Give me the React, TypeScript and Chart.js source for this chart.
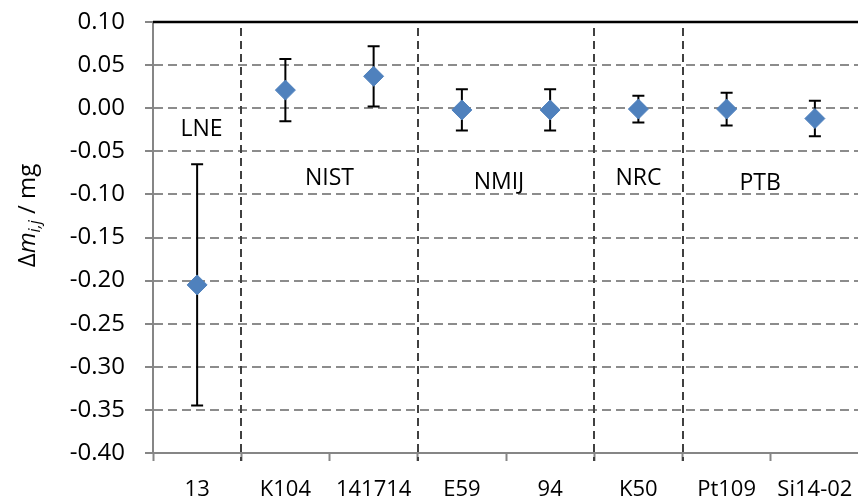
import React, { useEffect, useRef } from 'react';
import { Chart, registerables } from 'chart.js';

Chart.register(...registerables);

// ---- data ----
const categories = ['13', 'K104', '141714', 'E59', '94', 'K50', 'Pt109', 'Si14-02'];
const values = [-0.205, 0.021, 0.037, -0.002, -0.002, -0.001, -0.001, -0.012];
const uncertainties = [0.14, 0.036, 0.035, 0.024, 0.024, 0.0155, 0.019, 0.0205];
const yMin = -0.4;
const yMax = 0.1;
const yStep = 0.05;

// groups (labs) and the category indices after which a separator is drawn
const groupNames = ['LNE', 'NIST', 'NMIJ', 'NRC', 'PTB'];
const separatorsAfter = [0, 2, 4, 5];

// annotation anchors for group names (category index, value)
const groupLabelCat = [0.05, 1.5, 3.42, 5.0, 6.38];
const groupLabelVal = [-0.025, -0.081, -0.086, -0.081, -0.087];

const FONT = "'Open Sans', sans-serif";

export default function App() {
  const ref = useRef<HTMLCanvasElement>(null);

  useEffect(() => {
    const canvas = ref.current;
    if (!canvas) return;

    const near = (a: number, b: number) => Math.abs(a - b) < 1e-6;

    const plugin = {
      id: 'custom',
      beforeDatasetsDraw(chart: any) {
        const { ctx, chartArea } = chart;
        const x = chart.scales.x;
        const y = chart.scales.y;
        ctx.save();
        // top border
        ctx.strokeStyle = '#000';
        ctx.lineWidth = 2.5;
        ctx.beginPath();
        ctx.moveTo(chartArea.left, chartArea.top);
        ctx.lineTo(chartArea.right, chartArea.top);
        ctx.stroke();
        // group separators
        ctx.strokeStyle = '#404040';
        ctx.lineWidth = 2;
        ctx.setLineDash([8, 5]);
        for (const i of separatorsAfter) {
          const px = Math.round((x.getPixelForValue(i) + x.getPixelForValue(i + 1)) / 2);
          ctx.beginPath();
          ctx.moveTo(px, chartArea.top + 6);
          ctx.lineTo(px, chartArea.bottom + 8);
          ctx.stroke();
        }
        ctx.setLineDash([]);
        // error bars
        ctx.strokeStyle = '#000';
        ctx.lineWidth = 2;
        values.forEach((v, i) => {
          const px = x.getPixelForValue(i);
          const t = y.getPixelForValue(v + uncertainties[i]);
          const b = y.getPixelForValue(v - uncertainties[i]);
          ctx.beginPath();
          ctx.moveTo(px, t);
          ctx.lineTo(px, b);
          ctx.moveTo(px - 6, t);
          ctx.lineTo(px + 6, t);
          ctx.moveTo(px - 6, b);
          ctx.lineTo(px + 6, b);
          ctx.stroke();
        });
        ctx.restore();
      },
      afterDraw(chart: any) {
        const { ctx } = chart;
        const x = chart.scales.x;
        const y = chart.scales.y;
        ctx.save();
        // group labels
        ctx.fillStyle = '#000';
        ctx.font = `23px ${FONT}`;
        ctx.textAlign = 'center';
        ctx.textBaseline = 'middle';
        groupNames.forEach((n, i) => {
          const c0 = Math.floor(groupLabelCat[i]);
          const f = groupLabelCat[i] - c0;
          const p0 = x.getPixelForValue(c0);
          const p1 = x.getPixelForValue(c0 + 1);
          const px = p0 + (p1 - p0) * f;
          ctx.fillText(n, px, y.getPixelForValue(groupLabelVal[i]));
        });
        // y-axis title: Δm_{i,j} / mg
        const parts = [
          { t: 'Δ', font: `24px ${FONT}`, dy: 0 },
          { t: 'm', font: `italic 24px ${FONT}`, dy: 0 },
          { t: 'i,j', font: `italic 16px ${FONT}`, dy: 5 },
          { t: ' / mg', font: `24px ${FONT}`, dy: 0 },
        ];
        let total = 0;
        const widths = parts.map((p) => {
          ctx.font = p.font;
          const w = ctx.measureText(p.t).width;
          total += w;
          return w;
        });
        const midY = (chart.chartArea.top + chart.chartArea.bottom) / 2 - 22;
        ctx.translate(35, midY);
        ctx.rotate(-Math.PI / 2);
        ctx.textAlign = 'left';
        ctx.textBaseline = 'alphabetic';
        let cx = -total / 2;
        parts.forEach((p, i) => {
          ctx.font = p.font;
          ctx.fillText(p.t, cx, p.dy);
          cx += widths[i];
        });
        ctx.restore();
      },
    };

    const chart = new Chart(canvas, {
      type: 'line',
      data: {
        labels: categories,
        datasets: [
          {
            data: values,
            showLine: false,
            pointStyle: 'rectRot',
            pointRadius: 10,
            pointHoverRadius: 10,
            pointBackgroundColor: '#4F81BD',
            pointBorderColor: '#4F81BD',
            pointBorderWidth: 1,
          },
        ],
      },
      options: {
        responsive: false,
        animation: false,
        devicePixelRatio: 1,
        layout: { padding: { top: 22, right: 5, left: 0, bottom: 0 } },
        plugins: { legend: { display: false }, tooltip: { enabled: false } },
        scales: {
          x: {
            type: 'category',
            offset: true,
            afterFit: (s: any) => {
              s.height = 48;
              s.paddingLeft = 0;
              s.paddingRight = 0;
            },
            grid: {
              offset: true,
              drawOnChartArea: false,
              drawTicks: true,
              tickLength: 8,
              tickColor: '#868686',
              tickWidth: 2,
            },
            border: { display: true, color: '#868686', width: 2 },
            ticks: {
              autoSkip: false,
              maxRotation: 0,
              minRotation: 0,
              padding: 16,
              color: '#000',
              font: { family: FONT, size: 22 },
            },
          },
          y: {
            min: yMin,
            max: yMax,
            afterFit: (s: any) => {
              s.width = 153;
              s.paddingTop = 0;
              s.paddingBottom = 0;
            },
            grid: {
              color: (c: any) =>
                c.tick && (near(c.tick.value, yMax) || near(c.tick.value, yMin)) ? 'rgba(0,0,0,0)' : '#8c8c8c',
              lineWidth: 2,
              tickLength: 8,
              tickColor: '#868686',
              tickWidth: 2,
            },
            border: { display: true, color: '#868686', width: 2, dash: [9, 5] },
            ticks: {
              stepSize: yStep,
              padding: 20,
              color: '#000',
              font: { family: FONT, size: 24 },
              callback: (v: any) => Number(v).toFixed(2),
            },
          },
        },
      },
      plugins: [plugin],
    });

    return () => chart.destroy();
  }, []);

  return (
    <div
      style={{
        position: 'fixed',
        left: 0,
        top: 0,
        width: 858,
        height: 501,
        overflow: 'hidden',
        background: '#fff',
      }}
    >
      <canvas ref={ref} width={870} height={501} style={{ display: 'block', width: 870, height: 501 }} />
    </div>
  );
}
